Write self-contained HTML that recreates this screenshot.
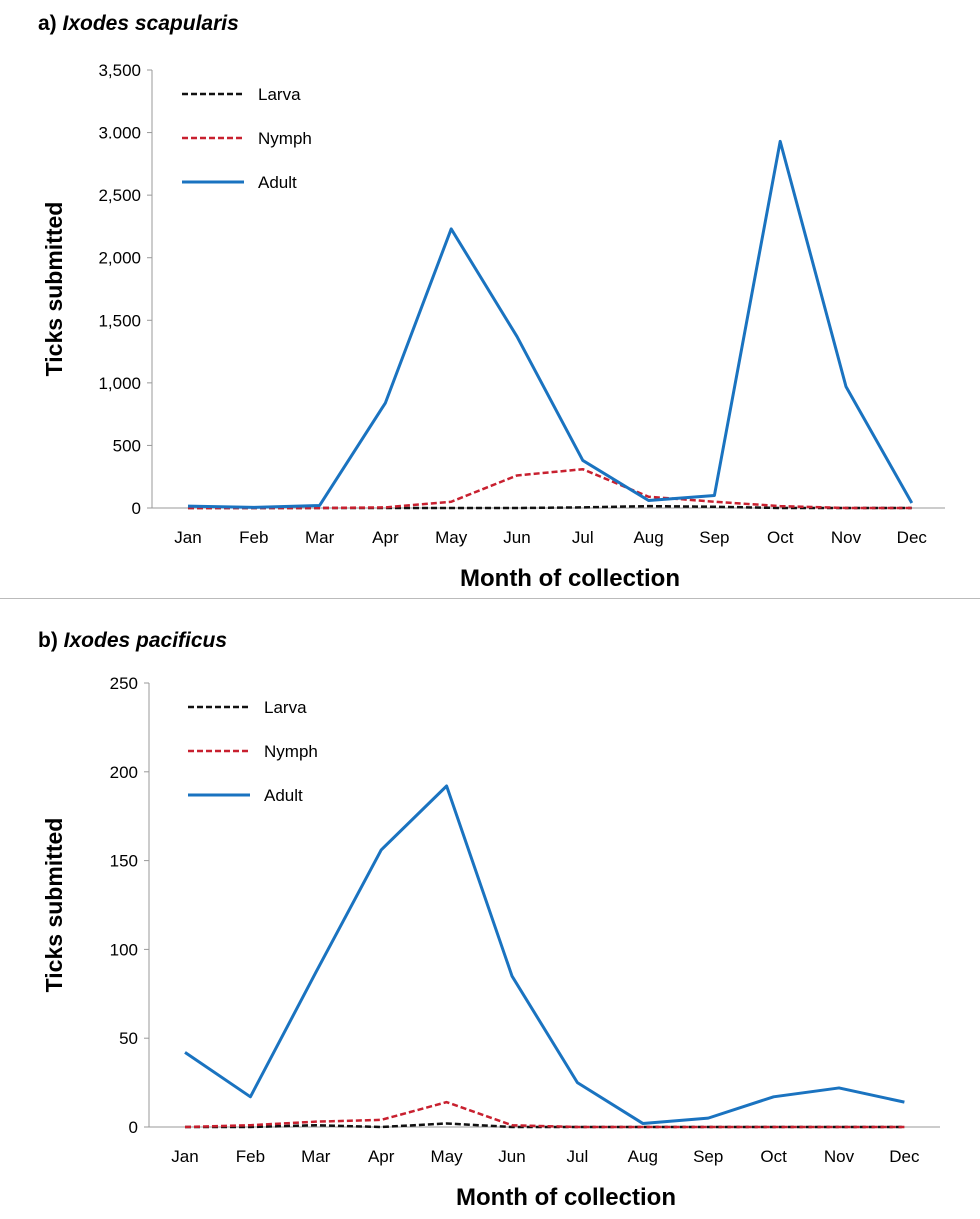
<!DOCTYPE html>
<html><head><meta charset="utf-8"><style>
body{margin:0;background:#fff;width:980px;height:1219px;overflow:hidden;font-family:"Liberation Sans",sans-serif}
svg{display:block}
</style></head><body>
<svg id="svg" width="980" height="1219">
<text x="38" y="30" font-size="21" font-weight="bold">a) <tspan font-style="italic">Ixodes scapularis</tspan></text>
<line x1="0" y1="598.5" x2="980" y2="598.5" stroke="#bbb" stroke-width="1"/>
<text x="38" y="647" font-size="21" font-weight="bold">b) <tspan font-style="italic">Ixodes pacificus</tspan></text>
</svg>
<script>
const months=["Jan","Feb","Mar","Apr","May","Jun","Jul","Aug","Sep","Oct","Nov","Dec"];
const aTicks=[0,500,1000,1500,2000,2500,3000,3500];
const aTickLabels=["0","500","1,000","1,500","2,000","2,500","3.000","3,500"];
const aLarva=[0,0,0,0,0,0,5,15,10,0,0,0];
const aNymph=[0,0,0,5,50,260,310,90,50,15,0,0];
const aAdult=[15,5,20,840,2230,1370,380,60,100,2930,970,40];
const bTicks=[0,50,100,150,200,250];
const bTickLabels=["0","50","100","150","200","250"];
const bLarva=[0,0,1,0,2,0,0,0,0,0,0,0];
const bNymph=[0,1,3,4,14,1,0,0,0,0,0,0];
const bAdult=[42,17,87,156,192,85,25,2,5,17,22,14];

const svg=document.getElementById('svg');
const NS="http://www.w3.org/2000/svg";
function mk(tag,attrs){const e=document.createElementNS(NS,tag);for(const k in attrs)e.setAttribute(k,attrs[k]);svg.appendChild(e);return e;}

function chart(p,id,ticks,tickLabels,series){
  const y=v=>p.y0-(v/p.max)*(p.y0-p.yTop);
  const x=i=>p.x0+p.dx*i;
  const ax=mk('line',{x1:p.ax,y1:p.yTop,x2:p.ax,y2:p.y0,stroke:'#999'});
  
  
  const bx=mk('line',{x1:p.ax,y1:p.y0,x2:p.xEnd,y2:p.y0,stroke:'#999'});
  
  
  ticks.forEach((t,i)=>{
    const tl=mk('line',{x1:p.ax-5,y1:y(t),x2:p.ax,y2:y(t),stroke:'#999'});
    
    
    const tx=mk('text',{x:p.ax-11,y:y(t)+6,'font-size':17,'text-anchor':'end'});
    tx.textContent=tickLabels[i];
    
    
  });
  months.forEach((m,i)=>{
    const tx=mk('text',{x:x(i),y:p.y0+35,'font-size':17,'text-anchor':'middle'});
    tx.textContent=m;
    
    
  });
  const xt=mk('text',{x:p.xtc,y:p.y0+78,'font-size':24,'font-weight':'bold','text-anchor':'middle'});
  xt.textContent='Month of collection';
  
  
  const cy=(p.yTop+p.y0)/2;
  const yt=mk('text',{x:62,y:cy,'font-size':23,'font-weight':'bold','text-anchor':'middle',transform:`rotate(-90 62 ${cy})`});
  yt.textContent='Ticks submitted';
  
  
  series.forEach((s,k)=>{
    const pl=mk('polyline',{points:s.data.map((v,i)=>x(i)+','+y(v)).join(' '),fill:'none',stroke:s.color,'stroke-width':s.dash?2.5:3,'stroke-dasharray':s.dash?'6,3':'none','stroke-linejoin':'round'});
    
    
    const ly=p.legY+k*44;
    const ll=mk('line',{x1:p.legX,y1:ly,x2:p.legX+62,y2:ly,stroke:s.color,'stroke-width':s.dash?2.5:3,'stroke-dasharray':s.dash?'6,3':'none'});
    
    
    const lt=mk('text',{x:p.legX+76,y:ly+6,'font-size':17});
    lt.textContent=s.name;
    
    
  });
}
chart({ax:152,xEnd:945,y0:508,yTop:70,max:3500,x0:188,dx:65.8,legX:182,legY:94,xtc:570},'chart-a',aTicks,aTickLabels,
 [{name:'Larva',data:aLarva,color:'#111',dash:true},{name:'Nymph',data:aNymph,color:'#c8202f',dash:true},{name:'Adult',data:aAdult,color:'#1a73c0',dash:false}]);
chart({ax:149,xEnd:940,y0:1127,yTop:683,max:250,x0:185,dx:65.4,legX:188,legY:707,xtc:566},'chart-b',bTicks,bTickLabels,
 [{name:'Larva',data:bLarva,color:'#111',dash:true},{name:'Nymph',data:bNymph,color:'#c8202f',dash:true},{name:'Adult',data:bAdult,color:'#1a73c0',dash:false}]);
</script>
</body></html>
